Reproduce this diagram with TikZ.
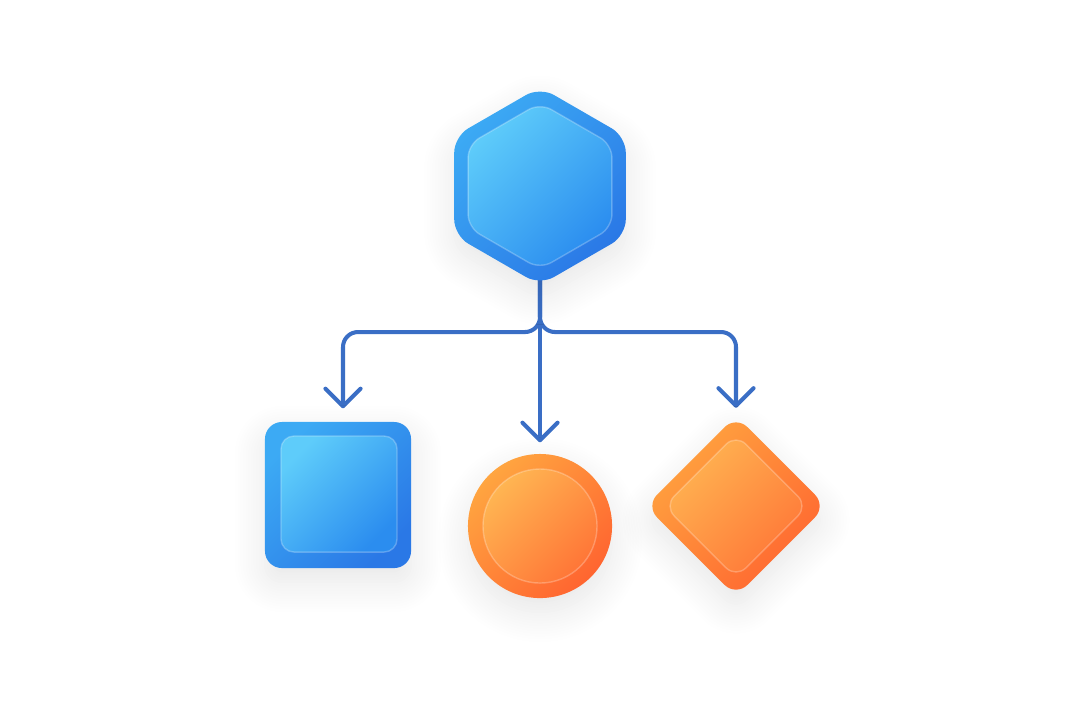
\documentclass[tikz,border=0pt]{standalone}
\usepackage{tikz}
\usetikzlibrary{shapes.geometric}
\usetikzlibrary{arrows.meta}
\usetikzlibrary{calc}
\usetikzlibrary{backgrounds}
\usetikzlibrary{shadows.blur}
\usepackage{xcolor}
\definecolor{myBlueA}{HTML}{3CAAF4}
\definecolor{myBlueB}{HTML}{2A78E6}
\definecolor{myBlueC}{HTML}{5ECCFA}
\definecolor{myBlueD}{HTML}{2B8DEF}
\definecolor{myOrangeA}{HTML}{FFA540}
\definecolor{myOrangeB}{HTML}{FF6530}
\definecolor{myOrangeC}{HTML}{FFB552}
\definecolor{myOrangeD}{HTML}{FF7637}
\definecolor{myLink}{HTML}{3A6EC5}
\tikzset{
  soft shadow/.style={blur shadow={shadow xshift=0pt, shadow yshift=-0.14cm, shadow blur radius=0.3cm, shadow blur steps=12, shadow opacity=10}},
  blue outer/.style={top color=myBlueA, bottom color=myBlueB, shading angle=45, draw=none, inner sep=0pt, soft shadow},
  blue inner/.style={top color=myBlueC, bottom color=myBlueD, shading angle=45, draw=white, draw opacity=0.25, line width=0.4pt, inner sep=0pt},
  orange outer/.style={top color=myOrangeA, bottom color=myOrangeB, shading angle=45, draw=none, inner sep=0pt, soft shadow},
  orange inner/.style={top color=myOrangeC, bottom color=myOrangeD, shading angle=45, draw=white, draw opacity=0.25, line width=0.4pt, inner sep=0pt},
  hexa/.style={regular polygon, regular polygon sides=6, shape border rotate=30},
  link/.style={draw=myLink, line width=1.15pt, line cap=round, line join=round, rounded corners=0.15cm, -{Straight Barb[length=5pt, width=10pt, line width=1.15pt, round]}},
}

\begin{document}
\begin{tikzpicture}[x=0.01cm, y=-0.01cm]
\useasboundingbox (0,0) rectangle (1080,720);

%%%%%%%%%%%%%%%%%%%%%%%%%%%%%%%%%%%%%%%%%%%%%%%%%%%%%%%%%%%%%% Shapes
% top hexagon
\node[hexa, blue outer, minimum size=1.98cm, rounded corners=0.16cm] (hex) at (540,186) {};
\node[hexa, blue inner, minimum size=1.66cm, rounded corners=0.13cm] (hexin) at (hex.center) {};

% square
\node[rectangle, blue outer, minimum size=1.46cm, rounded corners=0.17cm] (sq) at (338,495) {};
\node[rectangle, blue inner, minimum size=1.16cm, rounded corners=0.13cm] (sqin) at (339,494) {};

% circle
\node[circle, orange outer, minimum size=1.44cm] (cir) at (540,526) {};
\node[circle, orange inner, minimum size=1.14cm] (cirin) at (cir.center) {};

% diamond
\node[diamond, aspect=1, orange outer, minimum size=1.81cm, rounded corners=0.16cm] (dia) at (736,506) {};
\node[diamond, aspect=1, orange inner, minimum size=1.44cm, rounded corners=0.14cm] (diain) at (dia.center) {};

%%%%%%%%%%%%%%%%%%%%%%%%%%%%%%%%%%%%%%%%%%%%%%%%%%%%%%%%%%%%%% Connectors
\coordinate (bus) at ($(hex.center)+(0,146)$);
\coordinate (sqtip) at ($(sq.north)+(5,-13)$);
\coordinate (cirtip) at ($(cir.north)+(0,-11)$);
\coordinate (diatip) at ($(dia.north)+(0,-7)$);

\begin{scope}[on background layer]
\draw[link] (hex.center) -- (bus) -| (sqtip);
\draw[link] (hex.center) -- (bus) -| (diatip);
\draw[link] (hex.center) -- (cirtip);
\end{scope}

\end{tikzpicture}
\end{document}
